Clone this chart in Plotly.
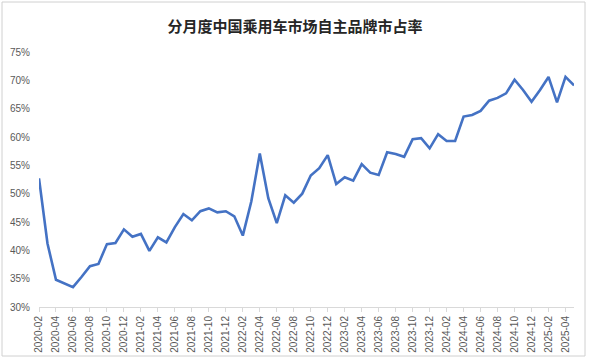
import plotly.graph_objects as go

months = [f"{y}-{m:02d}" for y in range(2020, 2026) for m in range(1, 13)]
months = months[months.index("2020-02"):months.index("2025-05") + 1]

share = [52.7, 41.2, 34.8, 34.2, 33.5, 35.3, 37.2, 37.6, 41.1, 41.3,
         43.7, 42.4, 42.9, 39.9, 42.3, 41.4, 44.1, 46.4, 45.3, 46.9,
         47.4, 46.7, 46.9, 46.0, 42.6, 48.6, 57.1, 49.2, 44.8, 49.7,
         48.4, 50.0, 53.2, 54.5, 56.8, 51.7, 52.9, 52.3, 55.2, 53.7,
         53.3, 57.3, 57.0, 56.5, 59.6, 59.8, 58.0, 60.5, 59.3, 59.3,
         63.6, 63.9, 64.6, 66.4, 66.9, 67.7, 70.1, 68.3, 66.2, 68.3,
         70.6, 66.1, 70.6, 69.1]

tick_labels = months[::2]
y_ticks = [30, 35, 40, 45, 50, 55, 60, 65, 70, 75]

fig = go.Figure()
fig.add_trace(go.Scatter(
    x=months, y=share, mode="lines",
    line=dict(color="#4472C4", width=2.6),
    hovertemplate="%{x}: %{y:.1f}%<extra></extra>",
))

L, R, T, B = 39, 16, 52, 53
W, H = 590, 360
pw, ph = W - L - R, H - T - B

fig.update_layout(
    width=W, height=H,
    margin=dict(l=L, r=R, t=T, b=B, autoexpand=False),
    paper_bgcolor="white", plot_bgcolor="white",
    showlegend=False,
    title=dict(text="<b>分月度中国乘用车市场自主品牌市占率</b>",
               x=0.5, xref="container", xanchor="center",
               y=1 - 27 / H, yref="container", yanchor="middle",
               font=dict(family="Noto Sans CJK SC", size=15, color="#262626")),
    font=dict(family="Liberation Sans, Arial", size=10, color="#595959"),
    xaxis=dict(
        type="category", categoryorder="array", categoryarray=months,
        range=[0, len(months) - 1], automargin=False,
        tickvals=tick_labels, ticktext=tick_labels,
        tickangle=-90, ticks="outside", ticklen=4, tickcolor="#d9d9d9",
        showline=True, linecolor="#d9d9d9", linewidth=1,
        showgrid=False, zeroline=False,
        tickfont=dict(size=10, color="#595959"),
    ),
    yaxis=dict(
        range=[30, 75], tickvals=y_ticks, automargin=False,
        ticktext=[f"{v}%" for v in y_ticks],
        showgrid=False, zeroline=False, showline=False, ticks="",
        ticklabelstandoff=8,
        tickfont=dict(size=10, color="#595959"),
    ),
    shapes=[dict(
        type="rect", xref="paper", yref="paper",
        x0=(2 - L) / pw, x1=(585 - L) / pw,
        y0=(H - B - 356) / ph, y1=(H - B - 2) / ph,
        line=dict(color="#d0d0d0", width=1), fillcolor="rgba(0,0,0,0)",
        layer="above",
    )],
)

fig.write_html("out.html", config={"displayModeBar": False},
               post_script="document.body.style.margin='0';")
